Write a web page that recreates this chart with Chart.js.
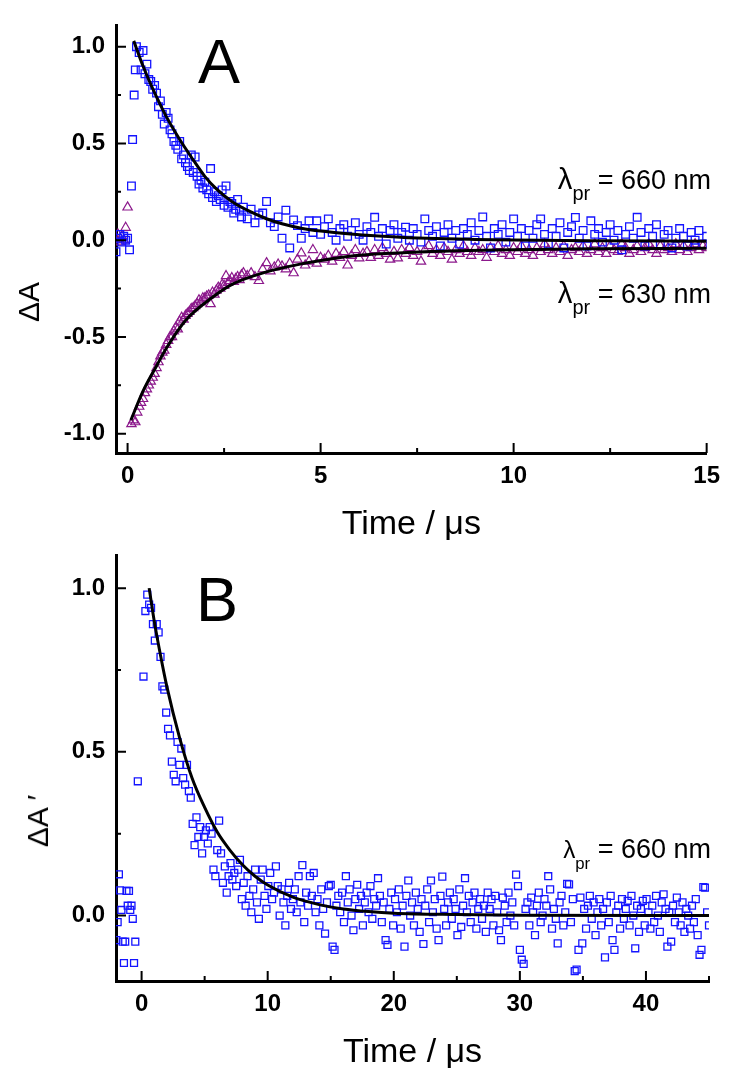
<!DOCTYPE html>
<html>
<head>
<meta charset="utf-8">
<script src="https://cdn.jsdelivr.net/npm/chart.js@4.4.1/dist/chart.umd.min.js"></script>
<style>
  html, body { margin: 0; padding: 0; background: #fff; }
  body { width: 729px; height: 1073px; position: relative; overflow: hidden;
         font-family: Arial, "Liberation Sans", Helvetica, sans-serif; }
  canvas { position: absolute; left: 0; }
  #chartA { top: 0; }
  #chartB { top: 530px; }
  .lbl { position: absolute; color: #000; white-space: nowrap; line-height: 1; }
  .panel { font-size: 63px; }
  .lam { font-size: 27px; right: 18px; }
  .lam .big { font-size: 1.08em; }
  .lam .sub { position: relative; top: 11px; font-size: 0.74em; }
  .ytitle { font-size: 30px; transform: translate(-50%, -50%) rotate(-90deg); }
</style>
</head>
<body>
<canvas id="chartA" width="729" height="545"></canvas>
<canvas id="chartB" width="729" height="543"></canvas>

<div class="lbl panel" style="left:198px; top:30px;">A</div>
<div class="lbl panel" style="left:196px; top:568px;">B</div>
<div class="lbl lam" style="top:165px;"><span class="big">λ</span><span class="sub">pr</span> = 660 nm</div>
<div class="lbl lam" style="top:279px;"><span class="big">λ</span><span class="sub">pr</span> = 630 nm</div>
<div class="lbl lam" style="top:836px;"><span style="font-size:0.9em">λ</span><span class="sub" style="font-size:0.62em">pr</span> = 660 nm</div>
<div class="lbl ytitle" style="left:29px; top:302px;">ΔA</div>
<div class="lbl ytitle" style="left:38px; top:821px;">ΔA ′</div>

<script>
// ---------- Axis ticks ----------
const xTicksA = [0, 5, 10, 15];
const xMinorA = [2.5, 7.5, 12.5];
const yTicksA = [-1, -0.5, 0, 0.5, 1];
const yMinorA = [-0.75, -0.25, 0.25, 0.75];
const xTicksB = [0, 10, 20, 30, 40];
const xMinorB = [5, 15, 25, 35, 45];
const yTicksB = [0, 0.5, 1];
const yMinorB = [0.25, 0.75];

// ---------- Panel A : λpr = 660 nm (squares) ----------
const time660Early = [
  -0.3,-0.25,-0.2,-0.15,-0.1,-0.05,0,0.05,0.1,0.13,
  0.17,0.2,0.23,
  0.3,0.35,0.4,0.45,0.5,0.55,0.6,0.65,0.7,0.75,
  0.8,0.85,0.9,0.95,1.0,1.05,1.1,1.15,1.2,1.25,
  1.3,1.35,1.4,1.45,1.5,1.55,1.6,1.65,1.7,1.75,
  1.8,1.85,1.9,1.95,2.0,2.05,2.1,2.15,2.2,2.25,
  2.3,2.35,2.4,2.45,2.5,2.55,2.6,2.65,2.7,2.75,
  2.8,2.85,2.9,2.95,3.0
];
const dA660Early = [
  -0.06,0.01,0.03,-0.01,0.02,0.0,0.01,-0.05,0.28,0.52,
  0.75,0.88,1.0,
  0.97,0.88,0.98,0.86,0.91,0.83,0.82,0.78,0.80,0.76,
  0.69,0.72,0.65,0.60,0.66,0.63,0.57,0.55,0.51,0.49,
  0.47,0.51,0.42,0.44,0.40,0.38,0.36,0.44,0.35,0.43,
  0.33,0.29,0.31,0.27,0.30,0.26,0.24,0.37,0.22,0.25,
  0.20,0.23,0.21,0.26,0.18,0.28,0.17,0.20,0.19,0.14,
  0.16,0.21,0.15,0.12,0.17
];
const timeTailA = [
  3.1,3.2,3.3,3.4,3.5,3.6,3.7,3.8,3.9,4.0,
  4.1,4.2,4.3,4.4,4.5,4.6,4.7,4.8,4.9,5.0,
  5.1,5.2,5.3,5.4,5.5,5.6,5.7,5.8,5.9,6.0,
  6.1,6.2,6.3,6.4,6.5,6.6,6.7,6.8,6.9,7.0,
  7.1,7.2,7.3,7.4,7.5,7.6,7.7,7.8,7.9,8.0,
  8.1,8.2,8.3,8.4,8.5,8.6,8.7,8.8,8.9,9.0,
  9.1,9.2,9.3,9.4,9.5,9.6,9.7,9.8,9.9,10.0,
  10.1,10.2,10.3,10.4,10.5,10.6,10.7,10.8,10.9,11.0,
  11.1,11.2,11.3,11.4,11.5,11.6,11.7,11.8,11.9,12.0,
  12.1,12.2,12.3,12.4,12.5,12.6,12.7,12.8,12.9,13.0,
  13.1,13.2,13.3,13.4,13.5,13.6,13.7,13.8,13.9,14.0,
  14.1,14.2,14.3,14.4,14.5,14.6,14.7,14.8,14.9,15.0
];
const dA660Tail = [
  0.11,0.16,0.09,0.13,0.14,0.20,0.09,0.07,0.12,0.01,
  0.155,-0.04,0.105,0.075,0.01,0.06,0.10,0.04,0.10,0.03,
  0.07,0.11,0.04,0.00,0.06,0.08,0.02,0.05,0.09,0.03,
  0.00,0.07,0.04,0.118,0.02,0.06,-0.02,0.05,0.08,0.01,
  0.04,0.067,0.00,0.06,0.03,-0.01,0.11,0.05,0.02,0.07,
  -0.03,0.04,0.08,0.01,0.05,-0.02,0.06,0.03,0.09,0.00,
  0.05,0.12,0.02,-0.04,0.06,0.03,0.08,-0.01,0.04,0.11,
  0.02,0.06,-0.03,0.05,0.01,0.08,0.11,0.03,-0.02,0.06,
  0.02,0.09,-0.04,0.04,0.07,0.117,0.01,0.05,-0.03,0.10,
  0.03,0.06,-0.01,0.04,0.08,0.00,0.05,-0.05,0.03,0.07,
  0.01,0.118,0.04,-0.03,0.06,0.02,0.08,-0.02,0.03,0.05,
  -0.04,0.01,0.06,0.02,-0.03,0.04,0.00,0.05,-0.02,0.02
];

// ---------- Panel A : λpr = 630 nm (triangles) ----------
const time630Early = [
  -0.3,-0.25,-0.2,-0.15,-0.1,-0.05,0,
  0.1,0.15,0.2,0.25,0.3,0.35,0.4,0.45,0.5,0.55,
  0.6,0.65,0.7,0.75,0.8,0.85,0.9,0.95,1.0,1.05,
  1.1,1.15,1.2,1.25,1.3,1.35,1.4,1.45,1.5,1.55,
  1.6,1.65,1.7,1.75,1.8,1.85,1.9,1.95,2.0,2.05,
  2.1,2.15,2.2,2.25,2.3,2.35,2.4,2.45,2.5,2.55,
  2.6,2.65,2.7,2.75,2.8,2.85,2.9,2.95,3.0
];
const dA630Early = [
  0.01,0.03,-0.01,0.02,0.0,0.065,0.17,
  -0.95,-0.93,-0.94,-0.89,-0.86,-0.84,-0.82,-0.79,-0.77,-0.75,
  -0.73,-0.71,-0.69,-0.66,-0.63,-0.60,-0.58,-0.57,-0.54,-0.52,
  -0.50,-0.50,-0.47,-0.45,-0.46,-0.42,-0.40,-0.41,-0.39,-0.38,
  -0.37,-0.355,-0.35,-0.34,-0.33,-0.31,-0.32,-0.30,-0.30,-0.29,
  -0.285,-0.33,-0.27,-0.28,-0.26,-0.245,-0.25,-0.23,-0.235,-0.185,
  -0.22,-0.21,-0.195,-0.215,-0.20,-0.19,-0.205,-0.18,-0.17
];
const dA630Tail = [
  -0.185,-0.17,-0.19,-0.21,-0.15,-0.118,-0.16,-0.14,-0.125,-0.135,
  -0.15,-0.12,-0.17,-0.10,-0.067,-0.13,-0.11,-0.05,-0.12,-0.09,
  -0.10,-0.08,-0.11,-0.07,-0.09,-0.06,-0.13,-0.08,-0.05,-0.093,
  -0.07,-0.06,-0.09,-0.05,-0.08,-0.04,-0.07,-0.10,-0.06,-0.093,
  -0.05,-0.07,-0.04,-0.08,-0.06,-0.11,-0.05,-0.03,-0.07,-0.05,
  -0.08,-0.04,-0.06,-0.10,-0.05,-0.07,-0.03,-0.06,-0.08,-0.04,
  -0.06,-0.05,-0.09,-0.04,-0.06,-0.03,-0.07,-0.05,-0.08,-0.04,
  -0.06,-0.03,-0.07,-0.05,-0.08,-0.04,-0.06,-0.02,-0.05,-0.07,
  -0.04,-0.06,-0.03,-0.08,-0.05,-0.04,-0.06,-0.03,-0.07,-0.05,
  -0.02,-0.06,-0.04,-0.07,-0.03,-0.05,-0.06,-0.02,-0.04,-0.07,
  -0.05,-0.03,-0.06,-0.04,-0.02,-0.05,-0.07,-0.03,-0.05,-0.04,
  -0.06,-0.02,-0.05,-0.03,-0.06,-0.04,-0.02,-0.05,-0.03,-0.04
];

// ---------- Panel A : fitted curves ----------
const fitTime660 = [0.16,0.4,0.75,1.0,1.35,1.7,2.0,2.3,2.7,3.1,3.58,4.0,4.5,5.0,5.7,6.5,7.26,8.0,9.0,10,12,15];
const fit660     = [1.03,0.9,0.74,0.64,0.52,0.415,0.33,0.265,0.2,0.155,0.112,0.085,0.062,0.047,0.033,0.021,0.013,0.008,0.004,0.001,-0.003,-0.005];
const fitTime630 = [0.085,0.4,0.75,1.0,1.5,2.2,2.72,3.58,4.44,5.3,6.0,7.26,8.5,10,12,15];
const fit630     = [-0.93,-0.78,-0.65,-0.56,-0.415,-0.295,-0.227,-0.165,-0.125,-0.096,-0.078,-0.064,-0.055,-0.049,-0.044,-0.042];

// ---------- Panel B : λpr = 660 nm ----------
const timeBEarly = [-2.0,-1.9,-1.8,-1.7,-1.6,-1.5,-1.4,-1.3,-1.2,-1.1,-1.0,-0.9,-0.8,-0.7,-0.6,-0.5,-0.3,0.15,0.3,0.45];
const dABEarly   = [-0.075,-0.02,0.126,0.077,0.017,-0.08,-0.145,-0.08,0.075,0.03,0.075,0.017,0.03,-0.01,-0.145,-0.08,0.41,0.73,0.93,0.98];
const timeBMain = [
  0.6,0.75,0.9,1.05,1.2,1.35,1.5,1.65,1.8,1.95,2.1,2.25,2.4,2.55,2.7,2.85,3.0,3.15,3.3,3.45,
  3.6,3.75,3.9,4.05,4.2,4.35,4.5,4.65,4.8,4.95,5.1,5.25,5.4,5.55,5.7,5.85,6.0,6.15,6.3,6.45,
  6.6,6.75,6.9,7.05,7.2,7.35,7.5,7.65,7.8,7.95,8.1,8.25,8.4,8.55,8.7,8.85,9.0,9.15,9.3,9.45,
  9.6,9.75,9.9,10.05,10.2,10.35,10.5,10.65,10.8,10.95,11.1,11.25,11.4,11.55,11.7,11.85,12.0,12.15,12.3,12.45,
  12.6,12.75,12.9,13.05,13.2,13.35,13.5,13.65,13.8,13.95,14.1,14.25,14.4,14.55,14.7,14.85,15.0,15.15,15.3,15.45,
  15.6,15.75,15.9,16.05,16.2,16.35,16.5,16.65,16.8,16.95,17.1,17.25,17.4,17.55,17.7,17.85,18.0,18.15,18.3,18.45,
  18.6,18.75,18.9,19.05,19.2,19.35,19.5,19.65,19.8,19.95,20.1,20.25,20.4,20.55,20.7,20.85,21.0,21.15,21.3,21.45,
  21.6,21.75,21.9,22.05,22.2,22.35,22.5,22.65,22.8,22.95,23.1,23.25,23.4,23.55,23.7,23.85,24.0,24.15,24.3,24.45,
  24.6,24.75,24.9,25.05,25.2,25.35,25.5,25.65,25.8,25.95,26.1,26.25,26.4,26.55,26.7,26.85,27.0,27.15,27.3,27.45,
  27.6,27.75,27.9,28.05,28.2,28.35,28.5,28.65,28.8,28.95,29.1,29.25,29.4,29.55,29.7,29.85,30.0,30.15,30.3,30.45,
  30.6,30.75,30.9,31.05,31.2,31.35,31.5,31.65,31.8,31.95,32.1,32.25,32.4,32.55,32.7,32.85,33.0,33.15,33.3,33.45,
  33.6,33.75,33.9,34.05,34.2,34.35,34.5,34.65,34.8,34.95,35.1,35.25,35.4,35.55,35.7,35.85,36.0,36.15,36.3,36.45,
  36.6,36.75,36.9,37.05,37.2,37.35,37.5,37.65,37.8,37.95,38.1,38.25,38.4,38.55,38.7,38.85,39.0,39.15,39.3,39.45,
  39.6,39.75,39.9,40.05,40.2,40.35,40.5,40.65,40.8,40.95,41.1,41.25,41.4,41.55,41.7,41.85,42.0,42.15,42.3,42.45,
  42.6,42.75,42.9,43.05,43.2,43.35,43.5,43.65,43.8,43.95,44.1,44.25,44.4,44.55,44.7,44.85,45.0
];
const dABMain = [
  0.95,0.94,0.89,0.84,0.89,0.865,0.79,0.70,0.69,0.62,0.57,0.55,0.47,0.43,0.41,0.53,0.46,0.51,0.42,0.40,
  0.46,0.38,0.36,0.28,0.215,0.30,0.24,0.27,0.19,0.24,0.26,0.22,0.27,0.25,0.14,0.12,0.20,0.29,0.19,0.10,
  0.15,0.07,0.12,0.16,0.11,0.13,0.09,0.14,0.17,0.05,0.10,0.03,0.12,0.06,0.01,0.08,0.14,0.04,-0.01,0.11,
  0.14,0.06,0.02,0.09,0.13,0.05,0.07,0.15,0.09,0.00,0.08,0.04,-0.03,0.06,0.10,0.02,0.05,0.08,0.01,0.12,
  0.04,0.154,-0.02,0.07,0.03,0.12,0.06,0.13,0.01,0.05,-0.03,0.08,0.02,-0.055,0.04,0.09,0.094,-0.095,-0.105,0.03,
  0.06,0.01,0.07,-0.02,0.12,0.04,0.08,0.00,-0.045,0.05,0.094,0.02,0.06,-0.03,0.04,0.07,0.01,0.09,-0.01,0.05,
  0.03,0.114,0.06,-0.02,0.04,-0.075,-0.09,0.02,0.07,-0.03,0.05,0.01,0.08,-0.04,0.03,-0.095,0.06,0.107,0.00,0.04,
  -0.03,0.07,0.02,-0.05,0.05,-0.087,0.03,0.08,-0.02,0.107,0.01,0.05,-0.04,-0.075,0.06,0.119,0.02,-0.03,0.04,0.07,
  -0.01,0.05,0.02,-0.06,0.08,-0.035,0.03,0.114,0.01,0.06,-0.02,0.04,0.07,-0.04,0.02,0.05,-0.01,0.03,-0.05,0.07,
  0.02,0.05,-0.03,0.06,0.01,-0.045,-0.075,0.055,0.03,-0.02,0.07,0.00,0.04,-0.03,0.125,0.09,-0.105,-0.135,-0.148,0.02,
  0.04,-0.03,0.055,0.01,-0.06,0.03,0.07,-0.02,0.00,0.05,0.03,0.12,0.08,-0.04,0.02,-0.01,-0.085,0.04,0.06,-0.03,
  0.01,0.097,0.095,-0.02,0.05,-0.17,-0.165,-0.105,0.055,-0.085,0.02,-0.04,0.03,0.06,-0.01,0.04,-0.06,0.01,0.05,-0.03,
  0.02,-0.128,0.04,-0.02,0.06,-0.075,-0.105,0.01,0.03,-0.04,0.05,-0.01,0.02,0.045,-0.03,0.06,0.00,-0.1,0.03,-0.05,
  0.02,0.045,-0.03,0.05,0.01,-0.04,0.03,-0.02,0.06,0.00,-0.05,0.04,0.065,0.02,-0.095,0.01,-0.08,0.03,-0.02,0.055,
  0.01,-0.03,0.04,-0.05,0.02,0.00,-0.04,0.03,-0.02,0.05,-0.06,-0.12,-0.105,0.087,0.085,0.01,-0.03
];
const fitTimeB = [0.6,1.0,1.5,2.0,3.0,4.0,5.0,6.0,7.0,8.0,9.0,10,12,14,16,18,20,25,30,45];
const fitB     = [1.0,0.90,0.795,0.70,0.545,0.42,0.33,0.255,0.20,0.155,0.12,0.093,0.056,0.034,0.02,0.012,0.007,0.003,0.001,0.0];

// ---------- helpers ----------
const FONT = "Arial, 'Liberation Sans', Helvetica, sans-serif";
const BLUE = 'rgb(20,20,255)';
const PURPLE = 'rgb(140,25,140)';
const pts = (xs, ys) => xs.map((x, i) => ({ x: x, y: ys[i] }));

const innerTicks = {
  id: 'innerTicks',
  afterDraw(chart, args, o) {
    const { ctx, chartArea: a, scales } = chart;
    const xs = scales.x, ys = scales.y;
    ctx.save();
    ctx.strokeStyle = '#000';
    ctx.lineWidth = 2;
    ctx.beginPath();
    const vx = (vals, len) => vals.forEach(v => {
      const p = xs.getPixelForValue(v);
      ctx.moveTo(p, a.bottom); ctx.lineTo(p, a.bottom - len);
    });
    const vy = (vals, len) => vals.forEach(v => {
      const p = ys.getPixelForValue(v);
      ctx.moveTo(a.left, p); ctx.lineTo(a.left + len, p);
    });
    vx(o.xMajor, 10); vx(o.xMinor, 5);
    vy(o.yMajor, 10); vy(o.yMinor, 5);
    ctx.stroke();
    ctx.restore();
  }
};

function axisCommon() {
  return {
    type: 'linear',
    grid: { display: false, drawTicks: false },
    border: { display: true, color: '#000', width: 3 },
    z: 1
  };
}

function makePanel(canvasId, datasets, ax) {
  return new Chart(document.getElementById(canvasId), {
    type: 'scatter',
    data: { datasets: datasets },
    plugins: [innerTicks],
    options: {
      responsive: false,
      devicePixelRatio: 1,
      animation: false,
      events: [],
      layout: { padding: { top: 15, right: 20, bottom: 0, left: 0 } },
      plugins: {
        legend: { display: false },
        tooltip: { enabled: false },
        innerTicks: { xMajor: ax.xTicks, xMinor: ax.xMinor, yMajor: ax.yTicks, yMinor: ax.yMinor }
      },
      scales: {
        x: Object.assign(axisCommon(), {
          min: ax.xMin, max: ax.xMax,
          afterBuildTicks: s => { s.ticks = ax.xTicks.map(v => ({ value: v })); },
          afterFit: s => { s.height = 92; },
          ticks: { font: { family: FONT, size: 24, weight: 'bold' }, color: '#000', padding: 9,
                   maxRotation: 0, autoSkip: false, callback: v => String(v) },
          title: { display: true, text: 'Time / μs', color: '#000',
                   font: { family: FONT, size: 34, lineHeight: 1.1 }, padding: { top: 0, bottom: 2 } }
        }),
        y: Object.assign(axisCommon(), {
          min: ax.yMin, max: ax.yMax,
          afterBuildTicks: s => { s.ticks = ax.yTicks.map(v => ({ value: v })); },
          afterFit: s => { s.width = 116; },
          ticks: { font: { family: FONT, size: 24, weight: 'bold' }, color: '#000', padding: 11,
                   autoSkip: false, callback: v => v.toFixed(1) }
        })
      }
    }
  });
}

const lineDs = (xs, ys) => ({
  data: pts(xs, ys), showLine: true, borderColor: '#000', borderWidth: 3,
  pointRadius: 0, cubicInterpolationMode: 'monotone', order: 0
});

// Panel A
makePanel('chartA', [
  lineDs(fitTime660, fit660),
  lineDs(fitTime630, fit630),
  { data: pts(time660Early.concat(timeTailA), dA660Early.concat(dA660Tail)),
    pointStyle: 'rect', pointRadius: 5.4, pointBorderWidth: 1.3, pointBorderColor: BLUE,
    pointBackgroundColor: 'rgba(0,0,0,0)', showLine: false, clip: 0, order: 1 },
  { data: pts(time630Early.concat(timeTailA), dA630Early.concat(dA630Tail)),
    pointStyle: 'triangle', pointRadius: 5.4, pointBorderWidth: 1.2, pointBorderColor: PURPLE,
    pointBackgroundColor: 'rgba(0,0,0,0)', showLine: false, clip: 0, order: 2 }
], { xMin: -0.3, xMax: 15, yMin: -1.1, yMax: 1.11,
     xTicks: xTicksA, xMinor: xMinorA, yTicks: yTicksA, yMinor: yMinorA });

// Panel B
makePanel('chartB', [
  lineDs(fitTimeB, fitB),
  { data: pts(timeBEarly.concat(timeBMain), dABEarly.concat(dABMain)),
    pointStyle: 'rect', pointRadius: 4.9, pointBorderWidth: 1.3, pointBorderColor: BLUE,
    pointBackgroundColor: 'rgba(0,0,0,0)', showLine: false, clip: 0, order: 1 }
], { xMin: -2.03, xMax: 45, yMin: -0.2, yMax: 1.1,
     xTicks: xTicksB, xMinor: xMinorB, yTicks: yTicksB, yMinor: yMinorB });
</script>
</body>
</html>
